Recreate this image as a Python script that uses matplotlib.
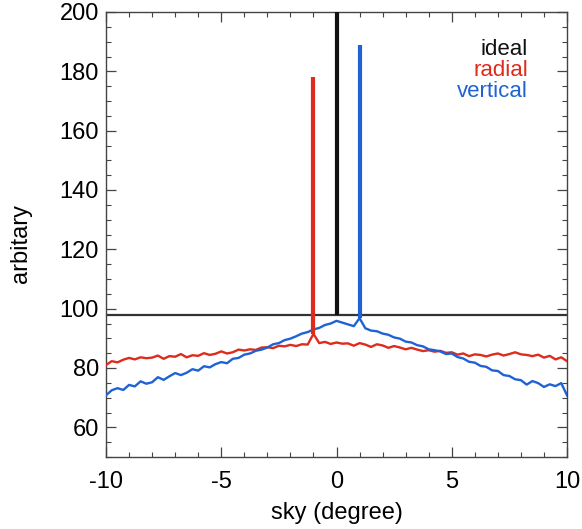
import numpy as np
import matplotlib
matplotlib.use("Agg")
import matplotlib.pyplot as plt
from matplotlib.ticker import MultipleLocator

plt.rcParams['font.family'] = ['Liberation Sans', 'DejaVu Sans']
plt.rcParams['axes.unicode_minus'] = False

# sky positions (degree)
sky = np.arange(-10, 10.001, 0.25)

radial = [81.0, 82.3, 81.9, 82.8, 83.4, 82.9, 83.6, 83.3, 83.5, 84.2,
          83.1, 84.0, 83.8, 84.7, 83.6, 84.3, 84.1, 85.0, 84.4, 84.8,
          85.6, 84.9, 85.3, 86.2, 85.9, 86.3, 86.1, 86.9, 87.0, 86.7,
          87.5, 87.3, 87.8, 87.4, 88.0, 87.9, 91.5, 88.4, 88.8, 88.1,
          88.6, 88.2, 88.3, 87.5, 88.4, 87.9, 87.1, 88.0, 87.6, 86.8,
          87.4, 86.9, 86.3, 86.8, 86.2, 85.7, 86.0, 85.5, 85.8, 85.1,
          85.3, 84.5, 84.9, 84.0, 84.6, 84.4, 83.9, 84.5, 84.9, 84.2,
          84.7, 85.3, 84.6, 84.4, 84.0, 84.5, 83.5, 84.1, 82.9, 83.6,
          82.3]

vertical = [70.8, 72.5, 73.2, 72.6, 74.3, 73.8, 75.5, 74.7, 75.2, 76.9,
            76.0, 77.2, 78.3, 77.6, 78.4, 79.6, 79.1, 80.6, 80.2, 81.3,
            82.0, 81.6, 83.1, 83.4, 84.5, 84.9, 85.8, 86.2, 86.9, 88.0,
            88.4, 89.4, 89.9, 90.7, 91.6, 92.1, 93.0, 93.5, 94.5, 95.0,
            95.9, 95.3, 94.7, 94.1, 96.8, 93.4, 92.6, 92.4, 91.6, 91.2,
            90.3, 89.9, 88.9, 88.6, 87.7, 87.3, 86.3, 86.0, 85.6, 84.7,
            84.9, 83.7, 83.2, 82.1, 81.8, 80.7, 80.4, 79.2, 79.0, 77.6,
            77.3, 76.2, 75.9, 74.4, 75.6, 74.9, 73.6, 74.5, 73.9, 74.9,
            70.8]

ideal_level = 98.0

# spikes: (position, base, peak)
spike_x = [0.0, -1.0, 1.0]
spike_base = [98.0, 91.5, 96.8]
spike_peak = [201.0, 178.0, 189.0]

names = ['ideal', 'radial', 'vertical']
colors = ['#111111', '#dd2b1c', '#1f62d4']

fig = plt.figure(figsize=(5.82, 5.29), dpi=100)
ax = fig.add_axes([106/582, 1 - 457/529, (567-106)/582, (457-12)/529])

ax.axhline(ideal_level, color='#333333', lw=1.6, zorder=2)
ax.plot(sky, radial, color=colors[1], lw=1.7, zorder=3)
ax.plot(sky, vertical, color=colors[2], lw=1.7, zorder=3)

for sx, sb, sp, c in zip(spike_x, spike_base, spike_peak, colors):
    ax.vlines(sx, sb, sp, color=c, lw=3.0, zorder=4)

ax.set_xlim(-10, 10)
ax.set_ylim(50, 200)
ax.set_xticks([-10, -5, 0, 5, 10])
ax.set_yticks([60, 80, 100, 120, 140, 160, 180, 200])
ax.xaxis.set_minor_locator(MultipleLocator(1))
ax.yaxis.set_minor_locator(MultipleLocator(5))
ax.tick_params(which='both', direction='in', top=True, right=True,
               labelsize=17, color='#444444')
ax.tick_params(axis='x', pad=10)
ax.tick_params(axis='y', pad=5)
ax.tick_params(which='major', length=7, width=0.9)
ax.tick_params(which='minor', length=3.5, width=0.8)
for s in ax.spines.values():
    s.set_color('#444444')
    s.set_linewidth(1.0)

ax.set_xlabel('sky (degree)', fontsize=17, va='center', ha='center')
ax.set_ylabel('arbitary', fontsize=17, va='center', ha='center')
ax.xaxis.set_label_coords(0.5, -(513 - 457) / 445)
ax.yaxis.set_label_coords(-(106 - 21) / 461, 0.48)

for i, (n, c) in enumerate(zip(names, colors)):
    ax.text(0.915, 0.915 - i * 0.047, n, color=c, fontsize=16,
            ha='right', va='center', transform=ax.transAxes)

fig.savefig('out.png', dpi=100)
